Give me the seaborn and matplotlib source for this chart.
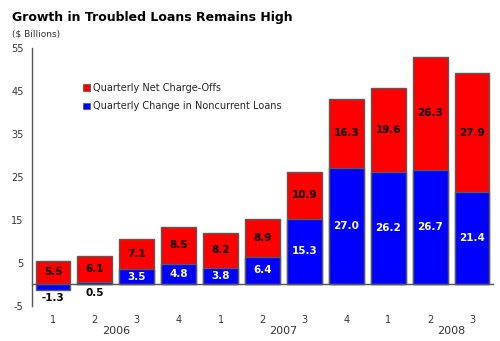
import matplotlib
matplotlib.use("Agg")
import matplotlib.pyplot as plt
import seaborn as sns
import pandas as pd
from matplotlib.patches import Patch

quarters = ["1", "2", "3", "4", "1", "2", "3", "4", "1", "2", "3"]
years = ["2006", "2007", "2008"]
year_pos = [1.5, 5.5, 9.5]
noncurrent = [-1.3, 0.5, 3.5, 4.8, 3.8, 6.4, 15.3, 27.0, 26.2, 26.7, 21.4]
chargeoffs = [5.5, 6.1, 7.1, 8.5, 8.2, 8.9, 10.9, 16.3, 19.6, 26.3, 27.9]
yticks = [-5, 5, 15, 25, 35, 45, 55]

RED = "#FF0000"
BLUE = "#0000FF"
EDGE = "#5a5a5a"

sns.set_theme(style="white")
plt.rcParams["font.family"] = ["DejaVu Sans"]

keys = [f"q{i}" for i in range(len(quarters))]
tops = [max(b, 0) + r for b, r in zip(noncurrent, chargeoffs)]
df = pd.DataFrame({"key": keys, "blue": noncurrent, "top": tops})

fig = plt.figure(figsize=(5.0, 3.41), dpi=100)
ax = fig.add_axes([0.064, 0.104, 0.922, 0.754])

sns.barplot(data=df, x="key", y="top", color=RED, saturation=1, width=0.83,
            edgecolor=EDGE, linewidth=1.0, ax=ax, zorder=2)
sns.barplot(data=df, x="key", y="blue", color=BLUE, saturation=1, width=0.83,
            edgecolor=EDGE, linewidth=1.0, ax=ax, zorder=3)

ax.set_xlim(-0.5, len(keys) - 0.5)
ax.set_ylim(-5, 55)
ax.set_yticks(yticks)
ax.set_yticklabels([str(t) for t in yticks], fontsize=7, color="#333333")
ax.set_xlabel("")
ax.set_ylabel("")

ax.spines["top"].set_visible(False)
ax.spines["right"].set_visible(False)
ax.spines["bottom"].set_position(("data", 0))
ax.spines["left"].set_color("#555555")
ax.spines["bottom"].set_color("#555555")
ax.spines["left"].set_linewidth(1.0)
ax.spines["bottom"].set_linewidth(1.0)
ax.spines["bottom"].set_zorder(4)

ax.set_xticks([i + 0.5 for i in range(len(keys))])
ax.set_xticklabels([])
ax.tick_params(axis="x", direction="out", length=3, width=0.8, color="#555555")
ax.tick_params(axis="y", direction="out", length=4, width=0.8, color="#555555", pad=2)

for i, (b, r) in enumerate(zip(noncurrent, chargeoffs)):
    base = max(b, 0)
    ax.text(i, base + r / 2, f"{r:.1f}", ha="center", va="center",
            fontsize=7.5, fontweight="bold", color="black", zorder=5)
    if abs(b) < 2:
        ax.annotate(f"{b:.1f}", xy=(i, min(b, 0)), xytext=(0, -2.5),
                    textcoords="offset points", ha="center", va="top",
                    fontsize=7.5, fontweight="bold", color="black", zorder=5)
    else:
        ax.text(i, b / 2, f"{b:.1f}", ha="center", va="center",
                fontsize=7.5, fontweight="bold", color="white", zorder=5)

for i, q in enumerate(quarters):
    ax.text(i, -8.4, q, ha="center", va="center", fontsize=7, color="#333333",
            clip_on=False)
for y, p in zip(years, year_pos):
    ax.text(p, -11.0, y, ha="center", va="center", fontsize=8, color="#333333",
            clip_on=False)

handles = [Patch(facecolor=RED, edgecolor=EDGE, linewidth=0.6, label="Quarterly Net Charge-Offs"),
           Patch(facecolor=BLUE, edgecolor=EDGE, linewidth=0.6, label="Quarterly Change in Noncurrent Loans")]
ax.legend(handles=handles, loc="upper left", bbox_to_anchor=(0.103, 0.88),
          frameon=False, fontsize=7, handlelength=0.7, handleheight=0.7,
          handletextpad=0.3, labelspacing=0.85, borderaxespad=0)

fig.text(0.024, 0.948, "Growth in Troubled Loans Remains High", fontsize=9,
         fontweight="bold", color="black", ha="left", va="center")
fig.text(0.024, 0.9, "($ Billions)", fontsize=6.5, color="#333333",
         ha="left", va="center")

fig.savefig("out.png", dpi=100)
